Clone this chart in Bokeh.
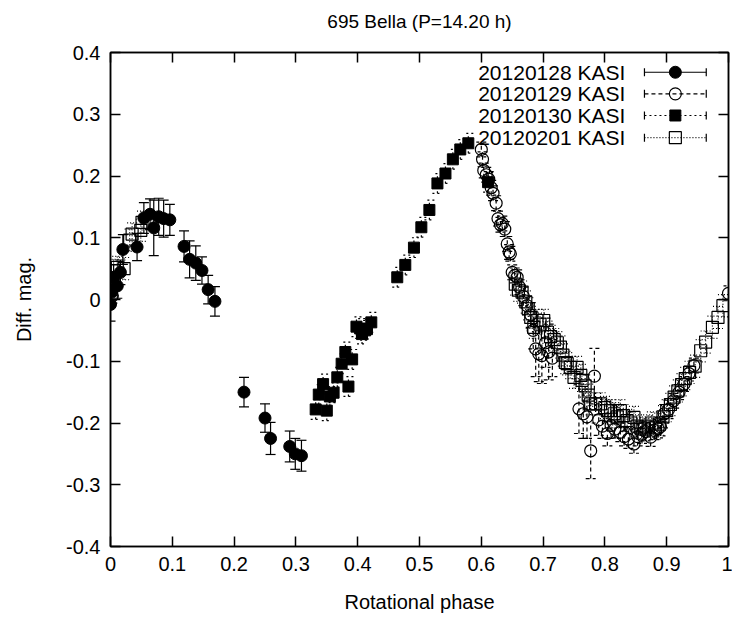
from bokeh.plotting import figure
from bokeh.models import ColumnDataSource, Whisker, TeeHead, Range1d, FixedTicker, LinearAxis
from bokeh.core.properties import value
from bokeh.embed import file_html
from bokeh.resources import INLINE

FONT = "Liberation Sans"

title_text = "695 Bella (P=14.20 h)"
x_label = "Rotational phase"
y_label = "Diff. mag."
series_names = ["20120128 KASI", "20120129 KASI", "20120130 KASI", "20120201 KASI"]

x_ticks = [0, 0.1, 0.2, 0.3, 0.4, 0.5, 0.6, 0.7, 0.8, 0.9, 1.0]
x_tick_labels = ["0", "0.1", "0.2", "0.3", "0.4", "0.5", "0.6", "0.7", "0.8", "0.9", "1"]
y_ticks = [-0.4, -0.3, -0.2, -0.1, 0, 0.1, 0.2, 0.3, 0.4]
y_tick_labels = ["-0.4", "-0.3", "-0.2", "-0.1", "0", "0.1", "0.2", "0.3", "0.4"]

# 20120128 KASI (filled circles, solid error bars)
s1_phase = [0.000, 0.002, 0.005, 0.011, 0.016, 0.020, 0.043, 0.054, 0.064, 0.070, 0.078, 0.086,
            0.096, 0.119, 0.128, 0.138, 0.148, 0.158, 0.169, 0.216, 0.250, 0.259, 0.290, 0.299, 0.309]
s1_mag = [-0.008, 0.012, 0.036, 0.022, 0.044, 0.081, 0.085, 0.132, 0.138, 0.116, 0.134, 0.131,
          0.129, 0.086, 0.065, 0.059, 0.047, 0.016, -0.003, -0.150, -0.192, -0.225, -0.238, -0.250, -0.253]
s1_err = [0.027, 0.020, 0.020, 0.020, 0.020, 0.024, 0.022, 0.025, 0.025, 0.045, 0.030, 0.030,
          0.025, 0.025, 0.030, 0.028, 0.022, 0.023, 0.024, 0.024, 0.023, 0.026, 0.025, 0.025, 0.025]

# 20120129 KASI (open circles, dashed error bars)
s2_phase = [0.003, 0.600, 0.602, 0.604, 0.608, 0.612, 0.616, 0.619, 0.624, 0.627, 0.631, 0.634,
            0.638, 0.642, 0.645, 0.647, 0.650, 0.654, 0.658, 0.662, 0.668, 0.674, 0.680, 0.684,
            0.688, 0.693, 0.698, 0.704, 0.709, 0.715, 0.758, 0.765, 0.771, 0.777, 0.783, 0.790,
            0.796, 0.804, 0.810, 0.816, 0.825, 0.831, 0.838, 0.847, 0.853, 0.860, 0.866, 0.874,
            0.880, 0.886, 0.890, 0.896, 0.903, 0.911, 0.920, 0.928, 0.936, 0.944, 1.000]
s2_mag = [0.006, 0.243, 0.227, 0.209, 0.202, 0.195, 0.181, 0.172, 0.156, 0.131, 0.121, 0.123,
          0.114, 0.090, 0.077, 0.074, 0.044, 0.039, 0.036, 0.020, 0.005, -0.010, -0.025, -0.050,
          -0.080, -0.088, -0.091, -0.070, -0.085, -0.095, -0.177, -0.185, -0.190, -0.245, -0.124, -0.195,
          -0.205, -0.217, -0.204, -0.210, -0.215, -0.222, -0.226, -0.234, -0.222, -0.218, -0.214, -0.223,
          -0.212, -0.209, -0.206, -0.185, -0.178, -0.164, -0.150, -0.137, -0.120, -0.107, 0.010]
s2_err = [0.012, 0.012, 0.012, 0.012, 0.012, 0.012, 0.012, 0.012, 0.012, 0.012, 0.012, 0.012,
          0.012, 0.012, 0.012, 0.012, 0.012, 0.012, 0.012, 0.012, 0.015, 0.015, 0.020, 0.030,
          0.045, 0.045, 0.045, 0.040, 0.045, 0.030, 0.040, 0.040, 0.035, 0.045, 0.045, 0.025,
          0.020, 0.020, 0.020, 0.015, 0.015, 0.015, 0.015, 0.015, 0.015, 0.015, 0.015, 0.015,
          0.015, 0.015, 0.015, 0.015, 0.015, 0.012, 0.012, 0.012, 0.012, 0.012, 0.012]

# 20120130 KASI (filled squares, short-dash error bars)
s3_phase = [0.332, 0.337, 0.344, 0.350, 0.355, 0.361, 0.367, 0.374, 0.380, 0.385, 0.391, 0.398,
            0.404, 0.407, 0.412, 0.415, 0.422, 0.464, 0.477, 0.491, 0.503, 0.516, 0.529, 0.542,
            0.554, 0.566, 0.579, 0.611]
s3_mag = [-0.178, -0.154, -0.137, -0.180, -0.157, -0.151, -0.126, -0.104, -0.085, -0.141, -0.097, -0.044,
          -0.047, -0.056, -0.050, -0.048, -0.037, 0.036, 0.056, 0.084, 0.117, 0.145, 0.188, 0.204,
          0.227, 0.243, 0.253, 0.190]
s3_err = [0.016] * 28

# 20120201 KASI (open squares, dotted error bars)
s4_phase = [0.005, 0.011, 0.022, 0.031, 0.035, 0.049, 0.051,
            0.655, 0.660, 0.666, 0.672, 0.676, 0.680, 0.685, 0.690, 0.695, 0.701, 0.707, 0.712,
            0.718, 0.723, 0.728, 0.732, 0.736, 0.739, 0.744, 0.750, 0.755, 0.761, 0.763, 0.768,
            0.773, 0.777, 0.785, 0.793, 0.800, 0.804, 0.809, 0.815, 0.820, 0.825, 0.830, 0.836,
            0.842, 0.847, 0.852, 0.858, 0.864, 0.870, 0.876, 0.882, 0.888, 0.894, 0.900, 0.906,
            0.912, 0.918, 0.924, 0.930, 0.937, 0.946, 0.955, 0.963, 0.974, 0.983, 0.991]
s4_mag = [0.047, 0.052, 0.050, 0.096, 0.106, 0.112, 0.125,
          0.025, 0.015, 0.012, -0.004, -0.015, -0.029, -0.045, -0.034, -0.040, -0.034, -0.053, -0.060,
          -0.065, -0.070, -0.077, -0.090, -0.102, -0.104, -0.110, -0.126, -0.110, -0.123, -0.131, -0.140,
          -0.155, -0.169, -0.169, -0.169, -0.175, -0.180, -0.180, -0.185, -0.190, -0.180, -0.188, -0.196,
          -0.200, -0.191, -0.205, -0.208, -0.210, -0.205, -0.200, -0.208, -0.202, -0.190, -0.180, -0.170,
          -0.158, -0.148, -0.138, -0.128, -0.118, -0.108, -0.083, -0.069, -0.045, -0.029, -0.010]
s4_err = [0.018] * 66

p = figure(width=732, height=617, output_backend="svg", toolbar_location=None,
           x_range=Range1d(0, 1), y_range=Range1d(-0.4, 0.4),
           min_border_left=110, min_border_right=4, min_border_top=52, min_border_bottom=71)
p.background_fill_color = "white"
p.border_fill_color = "white"
p.grid.visible = False
p.outline_line_color = "black"
p.outline_line_width = 1.5

def style_axis(ax, ticks, labels, show_labels=True):
    ax.ticker = FixedTicker(ticks=ticks)
    ax.major_tick_in = 10
    ax.major_tick_out = 0
    ax.major_tick_line_width = 1.5
    ax.major_tick_line_color = "black"
    ax.minor_tick_line_color = None
    ax.axis_line_width = 1.5
    ax.axis_line_color = "black"
    ax.major_label_text_font = FONT
    if show_labels:
        ax.major_label_overrides = {t: l for t, l in zip(ticks, labels)}
        ax.major_label_text_color = "black"
        ax.major_label_text_font_size = "20px"
        ax.major_label_standoff = 10
    else:
        ax.major_label_text_color = None
        ax.major_label_text_alpha = 0
        ax.major_label_text_font_size = "1px"
        ax.major_label_standoff = 0

style_axis(p.xaxis[0], x_ticks, x_tick_labels)
style_axis(p.yaxis[0], y_ticks, y_tick_labels)
p.xaxis[0].axis_label = x_label
p.yaxis[0].axis_label = y_label
for ax in (p.xaxis[0], p.yaxis[0]):
    ax.axis_label_text_font = FONT
    ax.axis_label_text_font_size = "20px"
    ax.axis_label_text_font_style = "normal"
    ax.axis_label_text_color = "black"
p.xaxis[0].axis_label_standoff = 17
p.yaxis[0].axis_label_standoff = 28

# top mirror axis, carrying the chart title as its label
top_ax = LinearAxis()
style_axis(top_ax, x_ticks, x_tick_labels, show_labels=False)
top_ax.axis_label = title_text
top_ax.axis_label_text_font = FONT
top_ax.axis_label_text_font_size = "19px"
top_ax.axis_label_text_font_style = "normal"
top_ax.axis_label_text_color = "black"
top_ax.axis_label_standoff = 21
p.add_layout(top_ax, "above")
right_ax = LinearAxis()
style_axis(right_ax, y_ticks, y_tick_labels, show_labels=False)
p.add_layout(right_ax, "right")

styles = [
    dict(marker="circle", size=12, fill="black", dash="solid", cap=10),
    dict(marker="circle", size=12, fill=None, dash="4 3", cap=10),
    dict(marker="square", size=11, fill="black", dash="2 3", cap=10),
    dict(marker="square", size=12, fill=None, dash="1 2", cap=10),
]
data = [(s1_phase, s1_mag, s1_err), (s2_phase, s2_mag, s2_err),
        (s3_phase, s3_mag, s3_err), (s4_phase, s4_mag, s4_err)]

for (xs, ys, es), st in zip(data, styles):
    src = ColumnDataSource(dict(x=xs, y=ys,
                                lo=[y - e for y, e in zip(ys, es)],
                                hi=[y + e for y, e in zip(ys, es)]))
    w = Whisker(source=src, base="x", lower="lo", upper="hi", dimension="height",
                line_color="black", line_width=1.2, line_dash=st["dash"],
                lower_head=TeeHead(size=st["cap"], line_color="black", line_width=1.2, line_dash=st["dash"]),
                upper_head=TeeHead(size=st["cap"], line_color="black", line_width=1.2, line_dash=st["dash"]))
    p.add_layout(w)
    if st["fill"] is None:
        p.scatter("x", "y", source=src, marker=st["marker"], size=st["size"],
                  line_color="black", line_width=1.2, fill_alpha=0)
    else:
        p.scatter("x", "y", source=src, marker=st["marker"], size=st["size"],
                  line_color="black", fill_color="black")

# legend (text left of sample, as in the original)
leg_text_x = 0.833
leg_x0, leg_x1, leg_xm = 0.864, 0.964, 0.914
leg_rows = [0.368, 0.333, 0.298, 0.262]
p.text(x=[leg_text_x] * 4, y=leg_rows, text=series_names, text_align="right",
       text_baseline="middle", text_font=value(FONT), text_font_size="21px", text_color="black")
for row, st in zip(leg_rows, styles):
    lsrc = ColumnDataSource(dict(b=[row], lo=[leg_x0], hi=[leg_x1], x=[leg_xm], y=[row]))
    w = Whisker(source=lsrc, base="b", lower="lo", upper="hi", dimension="width",
                line_color="black", line_width=1.2, line_dash=st["dash"], level="overlay",
                lower_head=TeeHead(size=8, line_color="black", line_width=1.2),
                upper_head=TeeHead(size=8, line_color="black", line_width=1.2))
    p.add_layout(w)
    if st["fill"] is None:
        p.scatter("x", "y", source=lsrc, marker=st["marker"], size=st["size"],
                  line_color="black", line_width=1.2, fill_color="white")
    else:
        p.scatter("x", "y", source=lsrc, marker=st["marker"], size=st["size"],
                  line_color="black", fill_color="black")

open("out.html", "w").write(file_html(p, INLINE))
